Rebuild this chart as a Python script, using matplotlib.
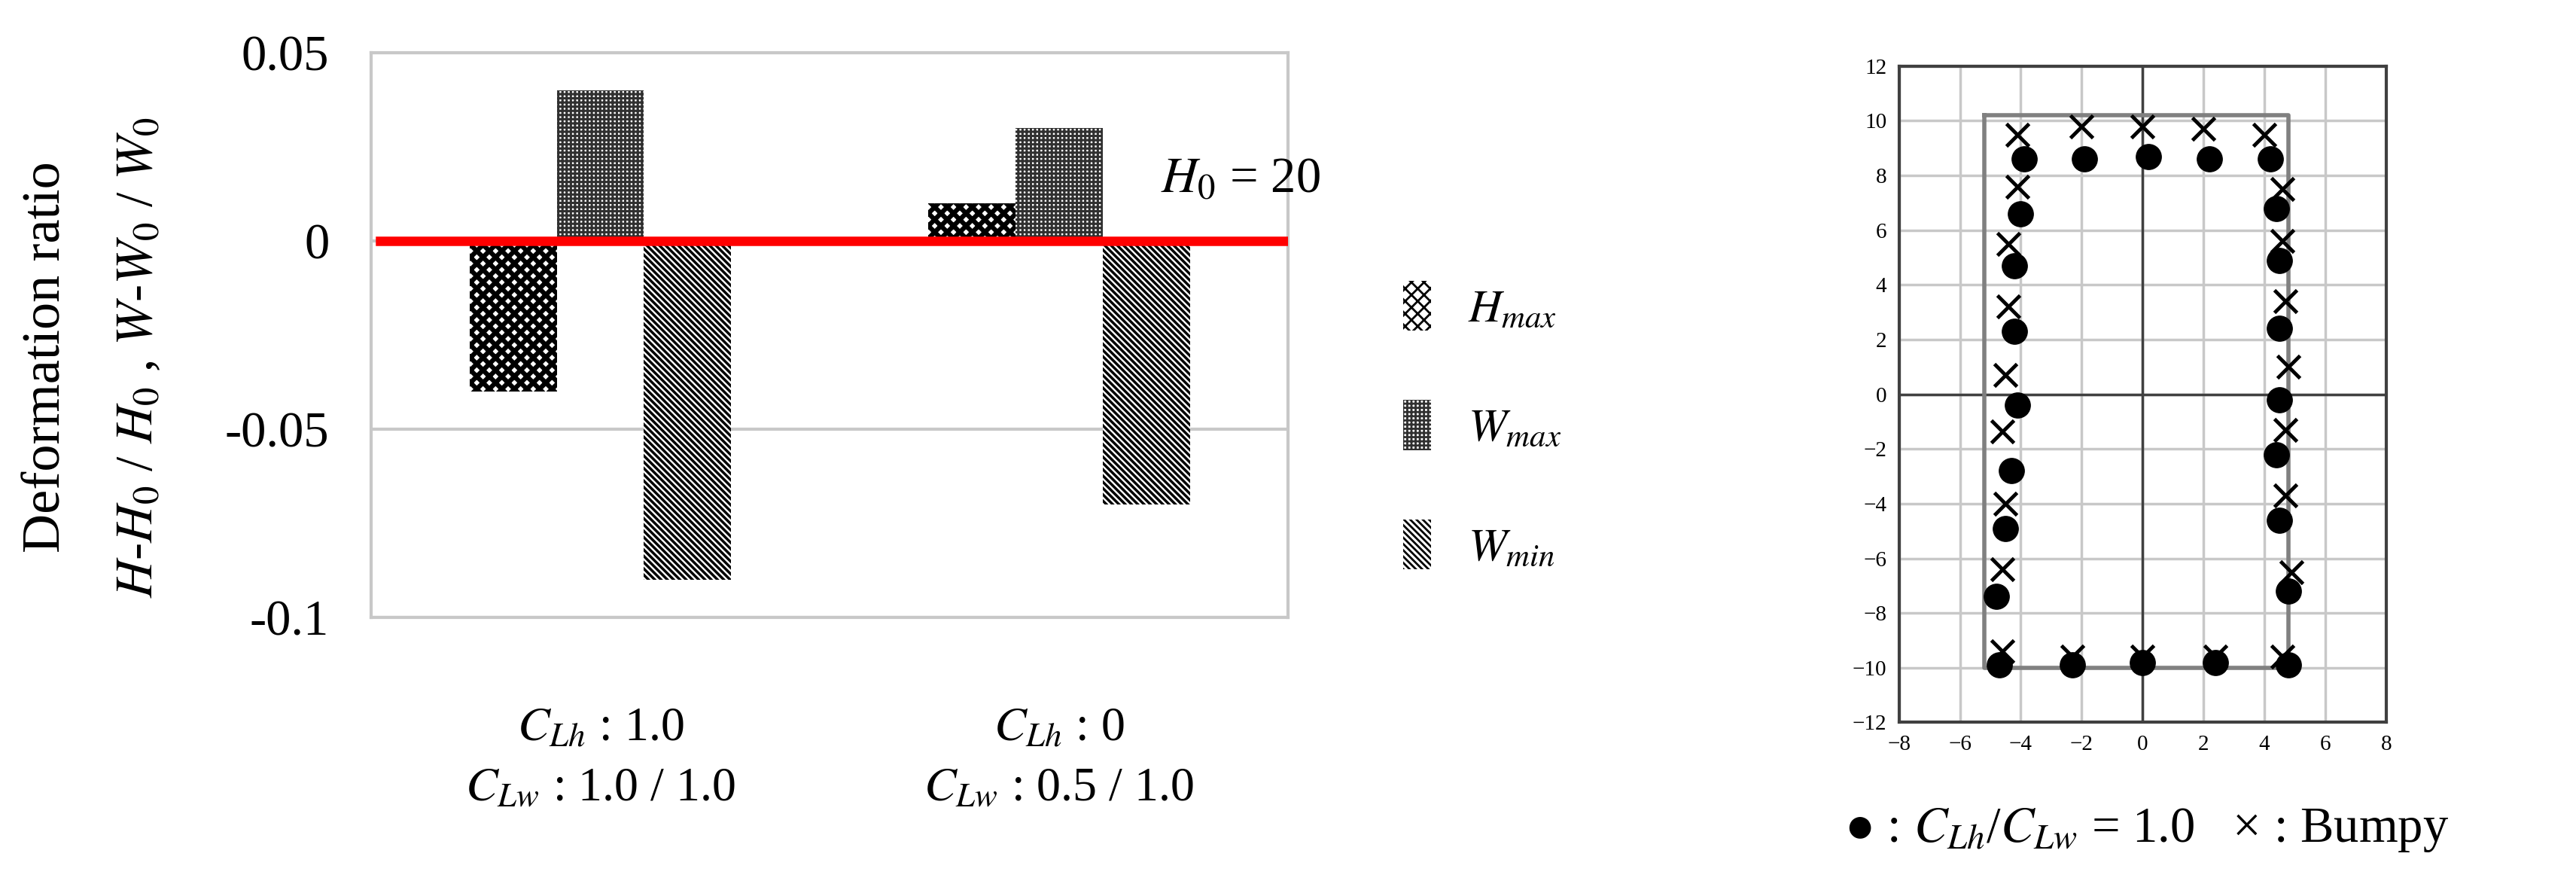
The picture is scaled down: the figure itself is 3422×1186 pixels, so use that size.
import matplotlib
matplotlib.use("Agg")
import matplotlib.pyplot as plt
import numpy as np

plt.rcParams['font.family'] = ['Liberation Serif', 'DejaVu Serif']
plt.rcParams['mathtext.fontset'] = 'stix'
plt.rcParams['hatch.linewidth'] = 2.0

categories = ["$C_{Lh}$ : 1.0\n$C_{Lw}$ : 1.0 / 1.0", "$C_{Lh}$ : 0\n$C_{Lw}$ : 0.5 / 1.0"]
series_names = ["$H_{max}$", "$W_{max}$", "$W_{min}$"]
h_max = [-0.04, 0.01]
w_max = [0.04, 0.03]
w_min = [-0.09, -0.07]
yticks = [0.05, 0, -0.05, -0.1]
ytick_labels = ["0.05", "0", "-0.05", "-0.1"]

circle_x = [-3.9, -1.9, 0.2, 2.2, 4.2, -4.0, -4.2, -4.2, -4.1, -4.3, -4.5, -4.8,
            4.4, 4.5, 4.5, 4.5, 4.4, 4.5, 4.8, -4.7, -2.3, 0.0, 2.4, 4.8]
circle_y = [8.6, 8.6, 8.7, 8.6, 8.6, 6.6, 4.7, 2.3, -0.4, -2.8, -4.9, -7.4,
            6.8, 4.9, 2.4, -0.2, -2.2, -4.6, -7.2, -9.9, -9.9, -9.8, -9.8, -9.9]
cross_x = [-4.1, -2.0, 0.0, 2.0, 4.0, -4.1, -4.4, -4.4, -4.5, -4.6, -4.5, -4.6, -4.6,
           4.6, 4.6, 4.7, 4.8, 4.7, 4.7, 4.9, -2.3, 0.0, 2.4, 4.6]
cross_y = [9.5, 9.8, 9.8, 9.7, 9.5, 7.6, 5.5, 3.2, 0.7, -1.35, -4.0, -6.4, -9.4,
           7.5, 5.6, 3.4, 1.0, -1.3, -3.7, -6.5, -9.6, -9.6, -9.6, -9.6]
rect_x = [-5.2, 4.8, 4.8, -5.2, -5.2]
rect_y = [10.2, 10.2, -10.0, -10.0, 10.2]

fig = plt.figure(figsize=(34.23, 11.86), dpi=100)

# ---- bar chart ----
ax = fig.add_axes([0.144, 0.309, 0.356, 0.632])
x = np.arange(len(categories))
w = 0.19
hatches = ['xx', '+++', '\\\\\\\\']
edges = ['black', '#303030', 'black']
for i, (vals, h) in enumerate(zip([h_max, w_max, w_min], hatches)):
    bars = ax.bar(x + (i - 1) * w, vals, w, facecolor='white', edgecolor=edges[i],
                  hatch=h, linewidth=0, label=series_names[i])
    for b in bars:
        b.set_hatch_linewidth([4.5, 2.2, 2.5][i])
ax.axhline(0, color='red', lw=9, zorder=3, xmin=0.01, xmax=1.0)
ax.set_ylim(-0.1, 0.05)
ax.set_xlim(-0.5, 1.5)
ax.set_yticks(yticks)
ax.set_yticklabels(ytick_labels)
ax.yaxis.grid(True, color='#c8c8c8', lw=3)
ax.set_axisbelow(True)
ax.tick_params(axis='y', length=0, labelsize=48, pad=40)
ax.set_xticks([])
for s in ax.spines.values():
    s.set_color('#c8c8c8'); s.set_linewidth(3)
for xi, c in zip(x, categories):
    fig.text(0.144 + 0.356 * (xi + 0.5) / 2, 0.15, c, ha='center', va='center',
             fontsize=46, linespacing=1.5)
ax.text(1.5 * 0.93, 0.01, "$H_0$ = 20", fontsize=48, ha='center', va='bottom',
        transform=ax.transData)
leg = ax.legend(loc='center left', bbox_to_anchor=(1.08, 0.34), frameon=False,
                fontsize=44, handlelength=0.6, handleheight=1.3, labelspacing=1.5,
                handletextpad=0.8)
fig.text(0.018, 0.6, "Deformation ratio", rotation=90, ha='center', va='center', fontsize=52)
fig.text(0.054, 0.6, "$H$-$H_0$ / $H_0$ , $W$-$W_0$ / $W_0$", rotation=90,
         ha='center', va='center', fontsize=50)

# ---- shape plot ----
ax2 = fig.add_axes([0.737, 0.191, 0.189, 0.735])
ax2.set_xlim(-8, 8); ax2.set_ylim(-12, 12)
ax2.set_xticks(np.arange(-8, 9, 2)); ax2.set_yticks(np.arange(-12, 13, 2))
ax2.grid(True, color='#c8c8c8', lw=2.5)
ax2.set_axisbelow(True)
ax2.axhline(0, color='#404040', lw=2.5, zorder=1)
ax2.axvline(0, color='#404040', lw=2.5, zorder=1)
ax2.plot(rect_x, rect_y, color='#808080', lw=4, zorder=2)
ax2.plot(circle_x, circle_y, 'o', color='black', ms=24, zorder=3)
ax2.plot(cross_x, cross_y, 'x', color='black', ms=22, mew=3.5, zorder=4)
ax2.tick_params(length=0, labelsize=21, pad=12)
for s in ax2.spines.values():
    s.set_color('#404040'); s.set_linewidth(3)
fig.text(0.833, 0.07, "● : $C_{Lh}$/$C_{Lw}$ = 1.0   × : Bumpy", ha='center', va='center',
         fontsize=48)
fig.savefig("out.png", dpi=100, facecolor='white')
